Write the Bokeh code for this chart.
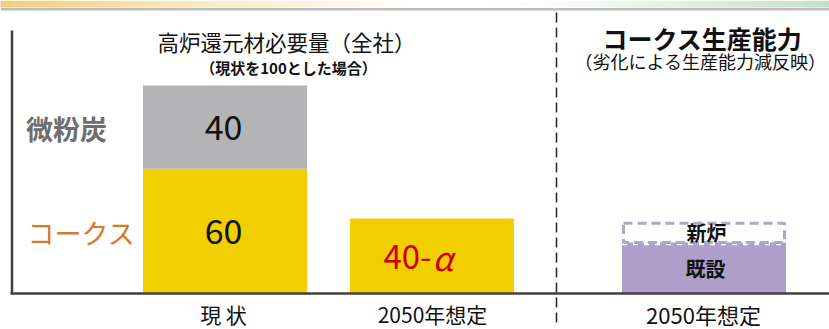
from bokeh.plotting import figure
from bokeh.models import Range1d, ColumnDataSource
from bokeh.core.properties import value
from bokeh.embed import file_html
from bokeh.resources import INLINE

# ---------------- data ----------------
categories = ["現 状", "2050年想定"]
coke = [60, 36]
pci = [40, 0]
coke_labels = ["60", "40-α"]
pci_labels = ["40", ""]
capacity_category = ["2050年想定"]
existing = [24.5]
new_furnace = [10]
series_names = ["微粉炭", "コークス"]
capacity_names = ["既設", "新炉"]
title_left = "高炉還元材必要量（全社）"
subtitle_left = "（現状を100とした場合）"
title_right = "コークス生産能力"
subtitle_right = "（劣化による生産能力減反映）"

# ---------------- layout ----------------
W, H = 829, 329
BASE = 293.0       # baseline pixel row
PPU = 2.08         # pixels per unit
FONT = value("Noto Sans CJK JP")

def yv(py):
    return (BASE - py) / PPU

p = figure(width=W, height=H, output_backend="svg", toolbar_location=None,
           x_range=Range1d(0, W), y_range=Range1d(yv(H), yv(0)),
           min_border=0, outline_line_color=None)
p.axis.visible = False
p.grid.visible = False
p.background_fill_color = "white"
p.border_fill_color = "white"

# top gradient band
def lerp(c1, c2, t):
    return tuple(int(round(a + (b - a) * t)) for a, b in zip(c1, c2))
stops = [(0, (240, 206, 120)), (200, (248, 234, 196)), (420, (255, 255, 255)),
         (560, (250, 252, 250)), (829, (196, 224, 196))]
xs, cols = [], []
step = 6
for x0 in range(0, W, step):
    xm = x0 + step / 2
    for (a, ca), (b, cb) in zip(stops[:-1], stops[1:]):
        if a <= xm <= b:
            c = lerp(ca, cb, (xm - a) / (b - a))
            break
    xs.append(xm)
    cols.append("#%02x%02x%02x" % c)
p.rect(x=xs, y=[yv(3.5)] * len(xs), width=step + 0.6, height=7 / PPU,
       fill_color=cols, line_color=None)
p.segment(x0=[0], y0=[yv(8.5)], x1=[W], y1=[yv(8.5)], line_color="#a8a8a8", line_width=1.5)
p.segment(x0=[0], y0=[yv(10)], x1=[W], y1=[yv(10)], line_color="#dcdcdc", line_width=1)

# bars (left panel)
centers = [224.5, 431.5]
bw = 164
src = ColumnDataSource(dict(x=centers, coke=coke, pci=pci,
                            top=[c + q for c, q in zip(coke, pci)]))
p.vbar(x="x", width=bw, bottom=0, top="coke", source=src,
       fill_color="#f2cf00", line_color=None)
p.vbar(x="x", width=bw, bottom="coke", top="top", source=src,
       fill_color="#b4b4b6", line_color=None)

# capacity bar (right panel)
cx = [703.5]
tot = [e + n for e, n in zip(existing, new_furnace)]
p.vbar(x=cx, width=bw, bottom=0, top=existing, fill_color="#af9fca", line_color=None)
# notched top edge of the existing part
p.segment(x0=[cx[0] - bw / 2], y0=[existing[0] - 0.6], x1=[cx[0] + bw / 2], y1=[existing[0] - 0.6],
          line_color="white", line_width=3, line_dash="5 6")
# dashed outline of the new-furnace part
p.vbar(x=cx, width=bw - 3, bottom=existing, top=[t - 0.7 for t in tot], fill_color=None,
       line_color="#b3a3cf", line_width=3, line_dash="9 5")

# axes lines
p.segment(x0=[11.5], y0=[yv(30)], x1=[11.5], y1=[0], line_color="#404040", line_width=2.5)
p.segment(x0=[10], y0=[0], x1=[W], y1=[0], line_color="#404040", line_width=2.5)
# divider
p.segment(x0=[556], y0=[yv(12)], x1=[556], y1=[yv(323)], line_color="#222222",
          line_width=1.5, line_dash="10 5")

# value labels
p.text(x=[223], y=[coke[0] / 2], text=[coke_labels[0]], text_font=FONT,
       text_font_size="34px", text_align="center", text_baseline="middle", text_color="#111111")
p.text(x=[223], y=[coke[0] + pci[0] / 2], text=[pci_labels[0]], text_font=FONT,
       text_font_size="34px", text_align="center", text_baseline="middle", text_color="#111111")
lab = coke_labels[1]
p.text(x=[431], y=[coke[1] * 0.5 - 0.5], text=[lab[:-1]], text_font=FONT,
       text_font_size="33px", text_align="right", text_baseline="middle", text_color="#cc0000")
p.text(x=[432], y=[coke[1] * 0.5 - 0.5], text=[lab[-1:]], text_font=FONT,
       text_font_size="33px", text_font_style="italic", text_align="left",
       text_baseline="middle", text_color="#cc0000")
p.text(x=[705], y=[existing[0] / 2], text=[capacity_names[0]], text_font=FONT,
       text_font_size="20px", text_font_style="bold", text_align="center",
       text_baseline="middle", text_color="#111111")
p.text(x=[706], y=[existing[0] + new_furnace[0] / 2], text=[capacity_names[1]], text_font=FONT,
       text_font_size="20px", text_font_style="bold", text_align="center",
       text_baseline="middle", text_color="#111111")

# series labels
p.text(x=[66], y=[yv(128)], text=[series_names[0]], text_font=FONT, text_font_size="27px",
       text_align="center", text_baseline="middle", text_color="#6e6e6e", text_font_style="bold")
p.text(x=[81], y=[yv(232)], text=[series_names[1]], text_font=FONT, text_font_size="27px",
       text_align="center", text_baseline="middle", text_color="#d9782a")

# category labels
p.text(x=[223, 432], y=[yv(313.5)] * 2, text=categories, text_font=FONT, text_font_size="21px",
       text_align="center", text_baseline="middle", text_color="#111111")
p.text(x=[703], y=[yv(313.5)], text=capacity_category, text_font=FONT, text_font_size="22px",
       text_align="center", text_baseline="middle", text_color="#111111")

# titles
p.text(x=[286], y=[yv(41)], text=[title_left], text_font=FONT, text_font_size="21.5px",
       text_align="center", text_baseline="middle", text_color="#111111")
p.text(x=[288], y=[yv(67)], text=[subtitle_left], text_font=FONT, text_font_size="15px",
       text_font_style="bold", text_align="center", text_baseline="middle", text_color="#111111")
p.text(x=[702], y=[yv(37)], text=[title_right], text_font=FONT, text_font_size="25px",
       text_font_style="bold", text_align="center", text_baseline="middle", text_color="#111111")
p.text(x=[700], y=[yv(60)], text=[subtitle_right], text_font=FONT, text_font_size="18px",
       text_align="center", text_baseline="middle", text_color="#111111")

open("out.html", "w").write(file_html(p, INLINE))
